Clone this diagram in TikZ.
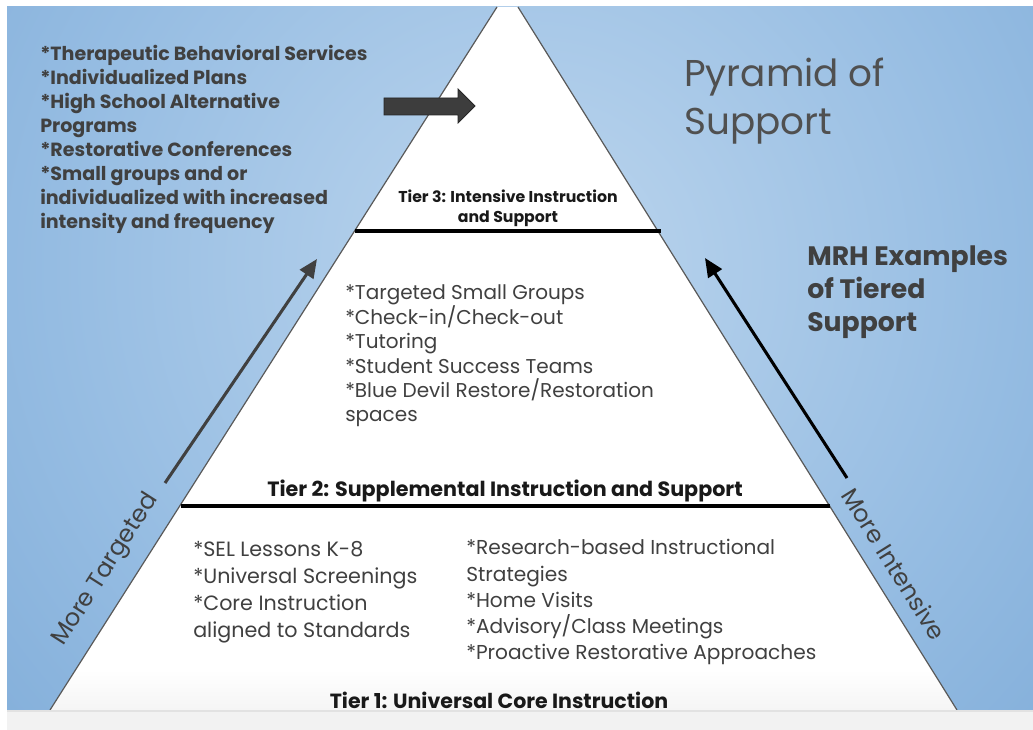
\documentclass[tikz,border=0pt]{standalone}
\usepackage{fontspec}
\setmainfont{Poppins}
\usetikzlibrary{arrows.meta}
\definecolor{txtgray}{HTML}{404040}
\definecolor{titlegray}{HTML}{505050}
\definecolor{bginner}{HTML}{BDD6EE}
\definecolor{bgmid}{HTML}{95BCE2}
\definecolor{bgouter}{HTML}{76A5D4}
\definecolor{stripgray}{HTML}{F2F2F2}
\definecolor{stripline}{HTML}{E2E2E2}
\pgfdeclareradialshading{bgshade}{\pgfpoint{0bp}{0bp}}{color(0bp)=(bginner); color(15bp)=(bgmid); color(28bp)=(bgouter); color(50bp)=(bgouter)}
\tikzset{
  txt/.style={inner sep=0pt, anchor=base west, align=left, text=txtgray},
  boldlist/.style={txt, font=\fontsize{14.3}{18}\selectfont\bfseries},
  reglist/.style={txt, font=\fontsize{15}{18.3}\selectfont},
  tierlabel/.style={inner sep=0pt, anchor=base, align=center, text=black!90, font=\fontsize{15.5}{19}\selectfont\bfseries},
  tierline/.style={line width=3pt, black},
  edgeline/.style={line width=0.9pt, black!65},
  sidelabel/.style={inner sep=0pt, text=txtgray, font=\fontsize{18}{22}\selectfont},
}
\begin{document}
\begin{tikzpicture}[x=0.75pt,y=-0.75pt]
\useasboundingbox (0,0) rectangle (1033,730);
% background
\begin{scope}
  \clip (7,7) rectangle (1033,710);
  \shade[shading=bgshade] (530,270) circle (800);
\end{scope}
% pyramid
\coordinate (apexL) at (497,7);
\coordinate (apexR) at (518,7);
\coordinate (botL) at (50,710);
\coordinate (botR) at (957,710);
\fill[white] (apexL) -- (apexR) -- (botR) -- (botL) -- cycle;
\begin{scope}
  \clip (apexL) -- (apexR) -- (botR) -- (botL) -- cycle;
  \shade[top color=white, bottom color=black!4] (0,670) rectangle (1033,710);
\end{scope}
\draw[edgeline] (apexL) -- (botL);
\draw[edgeline] (apexR) -- (botR);
% bottom strip
\fill[stripgray] (7,710) rectangle (1033,730);
\draw[stripline, line width=1.5pt] (7,711) -- (1033,711);
% tier lines
\coordinate (t3a) at (355,231);
\coordinate (t3b) at (661,231);
\coordinate (t2a) at (181,506);
\coordinate (t2b) at (830,506);
\draw[tierline] (t3a) -- (t3b);
\draw[tierline] (t2a) -- (t2b);
% texts (anchor = baseline of the last line)
\node[boldlist] (tier3ex) at (40,229) {*Therapeutic Behavioral Services\\*Individualized Plans\\*High School Alternative\\Programs\\*Restorative Conferences\\*Small groups and or\\individualized with increased\\intensity and frequency};
\node[txt, text=titlegray, font=\fontsize{28}{36}\selectfont] (title) at (684,135) {Pyramid of\\Support};
\node[txt, font=\fontsize{20}{25}\selectfont\bfseries] (mrh) at (807,332) {MRH Examples\\of Tiered\\Support};
\node[tierlabel, font=\fontsize{11.8}{15}\selectfont\bfseries] (t3label) at (508,223) {Tier 3: Intensive Instruction\\and Support};
\node[reglist] (t2list) at (345,422) {*Targeted Small Groups\\*Check-in/Check-out\\*Tutoring\\*Student Success Teams\\*Blue Devil Restore/Restoration\\spaces};
\node[tierlabel] (t2label) at (505,497) {Tier 2: Supplemental Instruction and Support};
\node[reglist, font=\fontsize{15.5}{20.25}\selectfont] (t1left) at (193,638) {*SEL Lessons K-8\\*Universal Screenings\\*Core Instruction\\aligned to Standards};
\node[reglist, font=\fontsize{15.1}{19.7}\selectfont] (t1right) at (466,660) {*Research-based Instructional\\Strategies\\*Home Visits\\*Advisory/Class Meetings\\*Proactive Restorative Approaches};
\node[tierlabel, font=\fontsize{15.4}{19}\selectfont\bfseries] (t1label) at (499,709) {Tier 1: Universal Core Instruction};
\node[sidelabel, rotate=57.5] (targeted) at (106,570) {More Targeted};
\node[sidelabel, rotate=-58] (intensive) at (894,564) {More Intensive};
% arrows
\coordinate (ltail) at (165,483);
\coordinate (lhead) at (317,259);
\coordinate (rtail) at (847,478);
\coordinate (rhead) at (705,258);
\draw[txtgray, line width=2.3pt, -{Triangle[length=14pt, width=12pt]}] (ltail) -- (lhead);
\draw[black, line width=2.3pt, -{Triangle[length=14pt, width=12pt]}] (rtail) -- (rhead);
% block arrow
\filldraw[fill=black!76, draw=black!85, line width=0.6pt] (384,98) -- (458,98) -- (458,89) -- (475,106) -- (458,123) -- (458,115) -- (384,115) -- cycle;
\end{tikzpicture}
\end{document}
